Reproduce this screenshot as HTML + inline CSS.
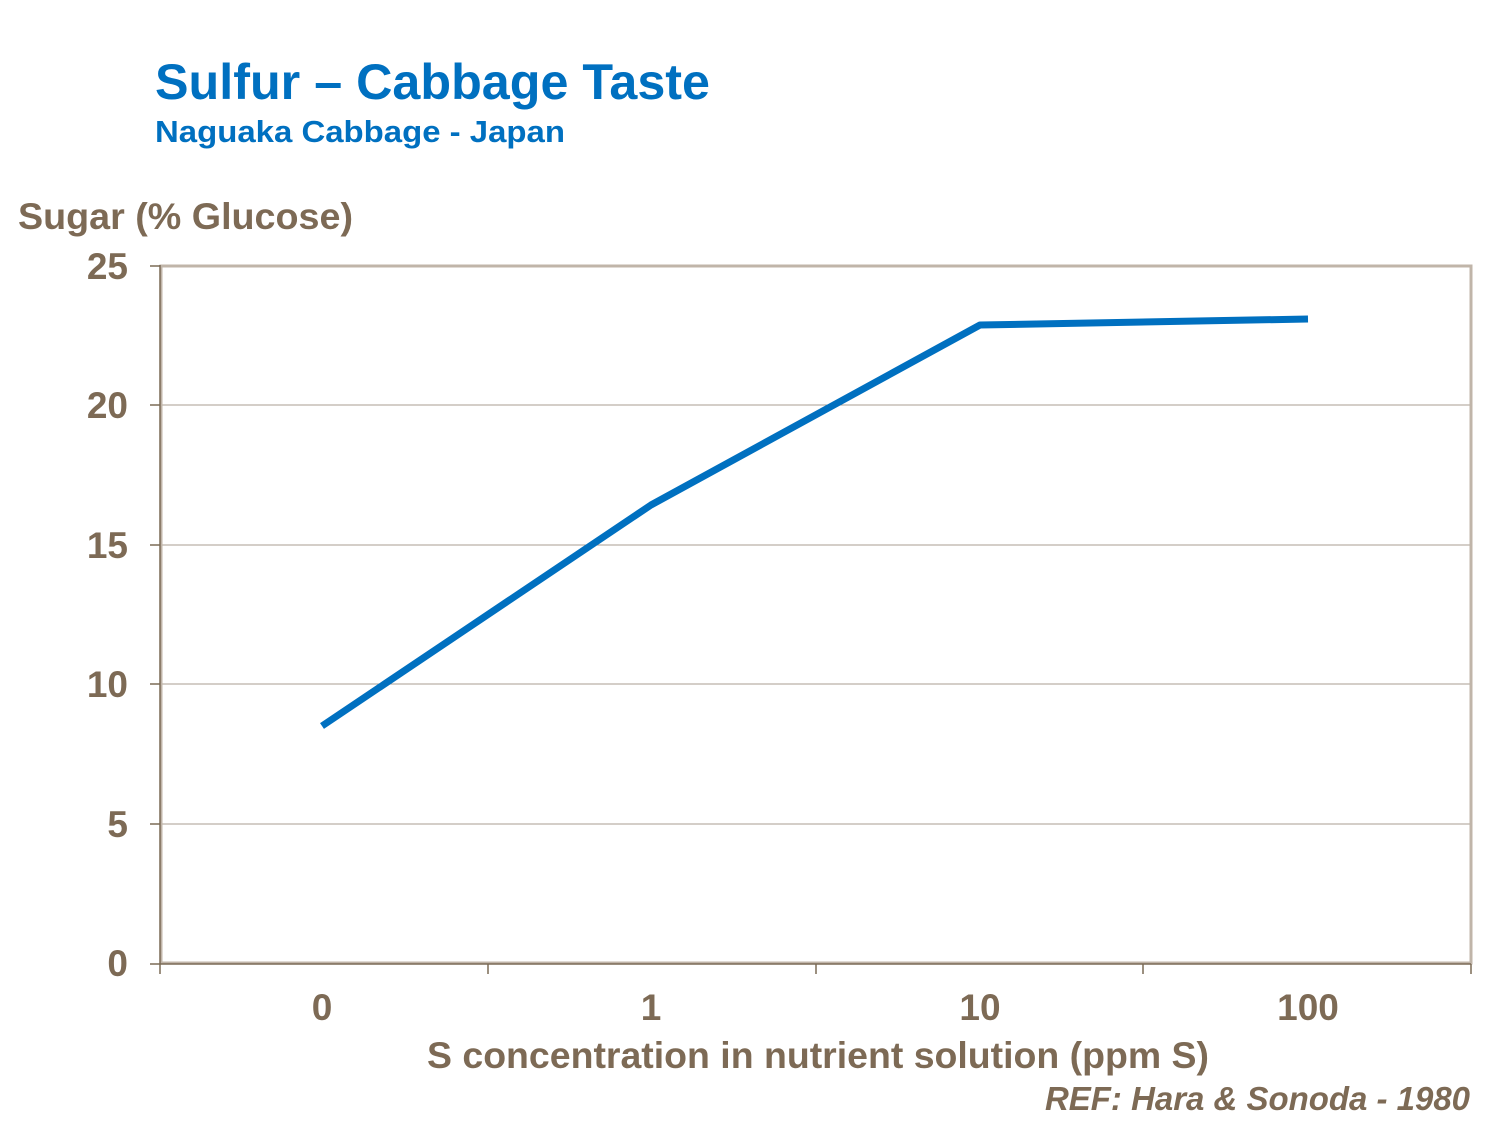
<!DOCTYPE html>
<html><head><style>body{margin:0;background:#fff}</style></head><body>
<svg width="1500" height="1125" xmlns="http://www.w3.org/2000/svg" font-family="Liberation Sans, Arial, sans-serif" font-weight="bold">
<text x="155" y="99" font-size="50" fill="#0070c0" textLength="555" lengthAdjust="spacingAndGlyphs">Sulfur – Cabbage Taste</text>
<text x="155" y="142" font-size="31" fill="#0070c0" textLength="410" lengthAdjust="spacingAndGlyphs">Naguaka  Cabbage - Japan</text>
<text x="18" y="229" font-size="37.5" fill="#7d6a55" textLength="335" lengthAdjust="spacingAndGlyphs">Sugar (% Glucose)</text>
<g stroke="#a89d90" stroke-width="1">
<line x1="160" y1="405" x2="1471" y2="405"/><line x1="160" y1="545" x2="1471" y2="545"/>
<line x1="160" y1="684" x2="1471" y2="684"/><line x1="160" y1="824" x2="1471" y2="824"/>
</g>
<rect x="161" y="266" width="1310" height="697" fill="none" stroke="#c0b5a9" stroke-width="3"/>
<g stroke="#7a6a55" stroke-width="1.5">
<line x1="160" y1="265" x2="160" y2="964"/><line x1="160" y1="964" x2="1471" y2="964"/>
<line x1="150" y1="266" x2="160" y2="266"/><line x1="150" y1="405" x2="160" y2="405"/><line x1="150" y1="545" x2="160" y2="545"/><line x1="150" y1="684" x2="160" y2="684"/><line x1="150" y1="824" x2="160" y2="824"/><line x1="150" y1="964" x2="160" y2="964"/>
<line x1="160" y1="964" x2="160" y2="974"/><line x1="488" y1="964" x2="488" y2="974"/><line x1="816" y1="964" x2="816" y2="974"/><line x1="1143" y1="964" x2="1143" y2="974"/><line x1="1471" y1="964" x2="1471" y2="974"/>
</g>
<g font-size="37" fill="#7d6a55" text-anchor="end">
<text x="128" y="279">25</text><text x="128" y="418">20</text><text x="128" y="558">15</text><text x="128" y="697">10</text><text x="128" y="837">5</text><text x="128" y="976">0</text>
</g>
<g font-size="37" fill="#7d6a55" text-anchor="middle">
<text x="322" y="1020">0</text><text x="651" y="1020">1</text><text x="980" y="1020">10</text><text x="1308" y="1020">100</text>
<text x="818" y="1068" font-size="37.5" textLength="782" lengthAdjust="spacingAndGlyphs">S concentration in nutrient solution (ppm S)</text>
</g>
<text x="1470" y="1110" font-size="33" font-style="italic" fill="#7d6a55" text-anchor="end" textLength="425" lengthAdjust="spacingAndGlyphs">REF: Hara &amp; Sonoda - 1980</text>
<polyline points="322,726 651,505 980,325 1308,319" fill="none" stroke="#0070c0" stroke-width="7" stroke-linejoin="round"/>
</svg>
</body></html>
